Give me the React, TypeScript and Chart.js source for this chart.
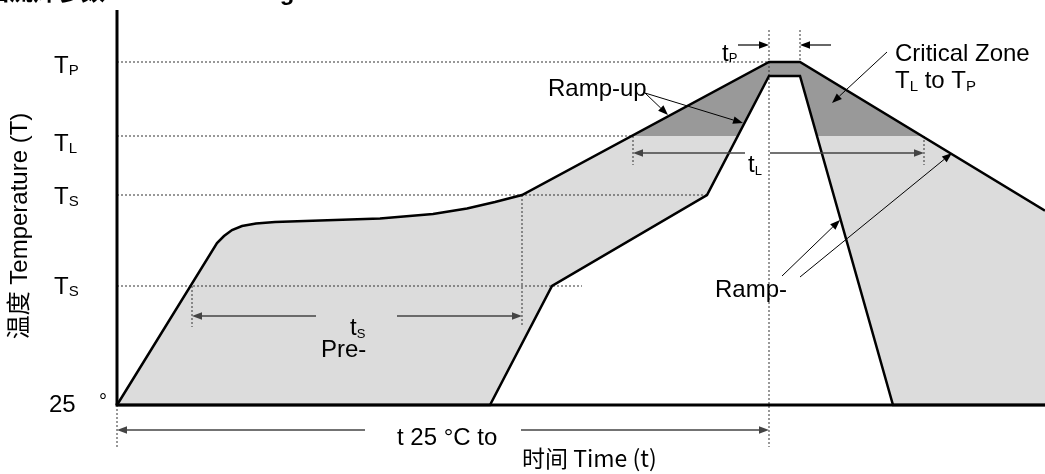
import { useEffect, useRef } from "react";
import { Chart, registerables } from "chart.js";

Chart.register(...registerables);

// ---- Schematic levels (arbitrary temperature units, 25 °C = 0) ----
const T_25 = 0;
const T_SMIN = 119;
const T_SMAX = 210;
const T_L = 269;
const T_P = 343;
const TIME_MAX = 928;
const TEMP_MAX = 395;

// ---- Profile curves (time, temperature) ----
const upperTime = [0, 100, 107, 115, 125, 139, 158, 203, 263, 316, 350, 378, 405, 652, 683, 928];
const upperTemp = [0, 162, 169, 175, 179, 181.5, 183, 184.5, 186.5, 191, 196.5, 203, 210, 343, 343, 194.4];
const lowerTime = [0, 373, 435, 590, 652, 683, 776, 928];
const lowerTemp = [0, 0, 119, 210, 329, 329, 0, 0];

// ---- Key time marks ----
const tsStart = 75;
const tsEnd = 405;
const tlStart = 516;
const tlEnd = 807;
const tpStart = 652;
const tpEnd = 683;

// ---- Y level labels ----
const levelValues = [T_P, T_L, T_SMAX, T_SMIN];
const levelMain = ["T", "T", "T", "T"];
const levelSub = ["P", "L", "S", "S"];

// ---- Dotted guide lines ----
const guideHorizontalEnds = [652, 516, 590, 465];
const guideVerticals = [
  [tsStart, T_SMIN, tsStart, 78],
  [tsEnd, T_SMAX, tsEnd, 78],
  [tlStart, T_L, tlStart, 240],
  [tlEnd, T_L, tlEnd, 240],
  [tpStart, 375, tpStart, -42],
  [tpEnd, 375, tpEnd, T_P],
  [0, T_25, 0, -42],
];

const SANS = "'Liberation Sans', Arial, 'Noto Sans CJK SC', sans-serif";
const CJK = "'Noto Sans CJK SC', 'Liberation Sans', sans-serif";

function pts(xs: number[], ys: number[]) {
  return xs.map((x, i) => ({ x, y: ys[i] }));
}

function arrow(ctx: CanvasRenderingContext2D, x1: number, y1: number, x2: number, y2: number, color: string, width: number) {
  const a = Math.atan2(y2 - y1, x2 - x1);
  const L = 10, W = 3.8;
  const bx = x2 - L * Math.cos(a), by = y2 - L * Math.sin(a);
  ctx.strokeStyle = color;
  ctx.lineWidth = width;
  ctx.beginPath();
  ctx.moveTo(x1, y1);
  ctx.lineTo(bx, by);
  ctx.stroke();
  ctx.fillStyle = color;
  ctx.beginPath();
  ctx.moveTo(x2, y2);
  ctx.lineTo(bx + W * Math.sin(a), by - W * Math.cos(a));
  ctx.lineTo(bx - W * Math.sin(a), by + W * Math.cos(a));
  ctx.closePath();
  ctx.fill();
}

function line(ctx: CanvasRenderingContext2D, x1: number, y1: number, x2: number, y2: number, color: string, width: number) {
  ctx.strokeStyle = color;
  ctx.lineWidth = width;
  ctx.beginPath();
  ctx.moveTo(x1, y1);
  ctx.lineTo(x2, y2);
  ctx.stroke();
}

// draws a sequence of [text, size, baselineShift] parts
function rich(ctx: CanvasRenderingContext2D, parts: [string, number, number][], x: number, y: number, family = SANS) {
  let cx = x;
  ctx.textAlign = "left";
  ctx.textBaseline = "alphabetic";
  ctx.fillStyle = "#000";
  for (const [t, s, d] of parts) {
    ctx.font = `${s}px ${family}`;
    ctx.fillText(t, cx, y + d);
    cx += ctx.measureText(t).width;
  }
}

const annotate = {
  id: "annotate",
  afterDatasetsDraw(chart: any) {
    const ctx: CanvasRenderingContext2D = chart.ctx;
    const X = (v: number) => chart.scales.x.getPixelForValue(v);
    const Y = (v: number) => chart.scales.y.getPixelForValue(v);
    ctx.save();

    // axes
    ctx.lineCap = "butt";
    line(ctx, X(0), Y(0), X(0), Y(TEMP_MAX), "#000", 3);
    line(ctx, X(0) - 1.5, Y(0), X(TIME_MAX), Y(0), "#000", 3);

    // title (cut at the top of the picture)
    ctx.font = `bold 24px ${SANS}`;
    ctx.fillStyle = "#000";
    ctx.textAlign = "left";
    ctx.textBaseline = "alphabetic";
    ctx.fillText("回流焊参数 Reflow Profiling", -15, 0);

    // y level labels
    const offs = [11, 15, 9, 8];
    levelValues.forEach((v, i) => {
      rich(ctx, [[levelMain[i], 24, 0], [levelSub[i], 15, 2]], 54, Y(v) + offs[i]);
    });
    rich(ctx, [["25", 24, 0]], 49, Y(T_25) + 7);
    rich(ctx, [["°", 20, 0]], 99, Y(T_25) + 3);

    // y axis title
    ctx.save();
    ctx.translate(20, 226);
    ctx.rotate(-Math.PI / 2);
    ctx.font = `24px ${SANS}`;
    ctx.textAlign = "center";
    ctx.textBaseline = "middle";
    ctx.fillStyle = "#000";
    ctx.fillText("温度 Temperature (T)", 0, 0);
    ctx.restore();

    // dimension arrows
    const dim = "#444";
    arrow(ctx, X(199), Y(89), X(tsStart), Y(89), dim, 1.5);
    arrow(ctx, X(280), Y(89), X(tsEnd), Y(89), dim, 1.5);
    arrow(ctx, X(628), Y(252), X(tlStart), Y(252), dim, 1.5);
    arrow(ctx, X(653), Y(252), X(tlEnd), Y(252), dim, 1.5);
    arrow(ctx, X(248), Y(-25), X(0), Y(-25), dim, 1.5);
    arrow(ctx, X(404), Y(-25), X(tpStart), Y(-25), dim, 1.5);
    arrow(ctx, X(621), Y(360), X(tpStart), Y(360), "#000", 1.2);
    arrow(ctx, X(714), Y(360), X(tpEnd), Y(360), "#000", 1.2);

    // pointer arrows
    arrow(ctx, X(528), Y(312), X(551), Y(290), "#000", 1);
    arrow(ctx, X(528), Y(312), X(626), Y(282), "#000", 1);
    arrow(ctx, X(770), Y(353), X(715), Y(302), "#000", 1);
    arrow(ctx, X(665), Y(129), X(723), Y(185), "#000", 1);
    arrow(ctx, X(683), Y(128), X(835), Y(252), "#000", 1);

    // texts
    rich(ctx, [["Ramp-up", 24, 0]], X(431), Y(309));
    rich(ctx, [["Critical Zone", 24, 0]], X(778), Y(344));
    rich(ctx, [["T", 24, 0], ["L", 15, 3], [" to T", 24, 0], ["P", 15, 3]], X(778), Y(317));
    rich(ctx, [["t", 24, 0], ["P", 13, 1]], X(605), Y(344));
    rich(ctx, [["t", 24, 0], ["L", 13, 3]], X(631), Y(233));
    rich(ctx, [["t", 24, 0], ["S", 13, 3]], X(233), Y(70));
    rich(ctx, [["Pre-", 24, 0]], X(204), Y(48));
    rich(ctx, [["Ramp-", 24, 0]], X(598), Y(108));
    rich(ctx, [["t 25 °C to", 24, 0]], X(280), Y(-40));
    rich(ctx, [["时间 Time (t)", 23, 0]], X(405), Y(-62), CJK);

    ctx.restore();
  },
};

export default function App() {
  const ref = useRef<HTMLCanvasElement>(null);

  useEffect(() => {
    if (!ref.current) return;
    const upper = pts(upperTime, upperTemp);
    const lower = pts(lowerTime, lowerTemp);
    const base = { pointRadius: 0, clip: false as any, tension: 0 };

    const guides: any[] = [];
    levelValues.forEach((v, i) => {
      guides.push({
        ...base,
        data: [{ x: 0, y: v }, { x: guideHorizontalEnds[i], y: v }],
        borderColor: "#333",
        borderWidth: 1,
        borderDash: [2, 2],
        fill: false,
        order: 5,
      });
    });
    guideVerticals.forEach(([x1, y1, x2, y2]) => {
      guides.push({
        ...base,
        data: [{ x: x1, y: y1 }, { x: x2, y: y2 }],
        borderColor: "#333",
        borderWidth: 1,
        borderDash: [2, 2],
        fill: false,
        order: 5,
      });
    });

    const chart = new Chart(ref.current, {
      type: "line",
      data: {
        datasets: [
          { ...base, data: upper, borderWidth: 0, borderColor: "rgba(0,0,0,0)", backgroundColor: "#dcdcdc", fill: "origin", order: 10 },
          {
            ...base,
            data: upper,
            borderWidth: 0,
            borderColor: "rgba(0,0,0,0)",
            fill: { target: { value: T_L }, above: "#999999", below: "rgba(0,0,0,0)" },
            order: 9,
          },
          { ...base, data: lower, borderWidth: 0, borderColor: "rgba(0,0,0,0)", backgroundColor: "#ffffff", fill: "origin", order: 8 },
          ...guides,
          { ...base, data: upper, borderColor: "#000", borderWidth: 2.5, fill: false, order: 1 },
          { ...base, data: lower, borderColor: "#000", borderWidth: 2.5, fill: false, order: 1 },
        ],
      },
      options: {
        animation: false,
        responsive: true,
        maintainAspectRatio: false,
        layout: { padding: { left: 117, right: 0, top: 10, bottom: 69 } },
        plugins: { legend: { display: false }, tooltip: { enabled: false }, title: { display: false } },
        events: [],
        scales: {
          x: { type: "linear", min: 0, max: TIME_MAX, display: false },
          y: { type: "linear", min: T_25, max: TEMP_MAX, display: false },
        },
      },
      plugins: [annotate],
    });
    return () => chart.destroy();
  }, []);

  return (
    <div style={{ position: "absolute", left: 0, top: 0, width: 1045, height: 474, background: "#fff" }}>
      <canvas ref={ref} />
    </div>
  );
}
